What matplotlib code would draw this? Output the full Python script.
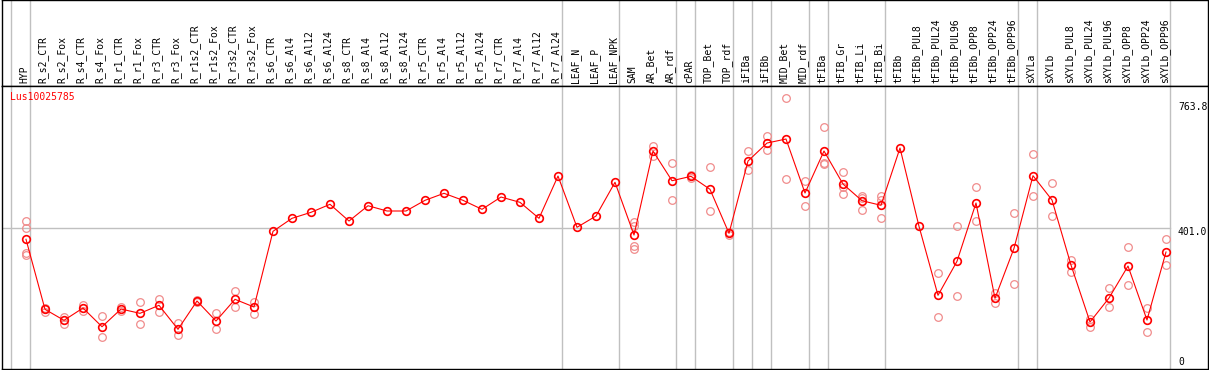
import matplotlib.pyplot as plt

# sample names, one column each
samples = [
    "HYP", "R_s2_CTR", "R_s2_Fox", "R_s4_CTR", "R_s4_Fox", "R_r1_CTR", "R_r1_Fox",
    "R_r3_CTR", "R_r3_Fox", "R_r1s2_CTR", "R_r1s2_Fox", "R_r3s2_CTR", "R_r3s2_Fox",
    "R_s6_CTR", "R_s6_Al4", "R_s6_Al12", "R_s6_Al24", "R_s8_CTR", "R_s8_Al4",
    "R_s8_Al12", "R_s8_Al24", "R_r5_CTR", "R_r5_Al4", "R_r5_Al12", "R_r5_Al24",
    "R_r7_CTR", "R_r7_Al4", "R_r7_Al12", "R_r7_Al24", "LEAF_N", "LEAF_P", "LEAF_NPK",
    "SAM", "AR_Bet", "AR_rdf", "cPAR", "TOP_Bet", "TOP_rdf", "iFIBa", "iFIBb",
    "MID_Bet", "MID_rdf", "tFIBa", "tFIB_Gr", "tFIB_Li", "tFIB_Bi", "tFIBb",
    "tFIBb_PUL8", "tFIBb_PUL24", "tFIBb_PUL96", "tFIBb_OPP8", "tFIBb_OPP24",
    "tFIBb_OPP96", "sXYLa", "sXYLb", "sXYLb_PUL8", "sXYLb_PUL24", "sXYLb_PUL96",
    "sXYLb_OPP8", "sXYLb_OPP24", "sXYLb_OPP96",
]

# mean expression per sample
means = [
    370.4, 175.0, 144.3, 178.6, 126.4, 175.8, 163.8, 186.2, 119.2, 198.2, 142.3,
    202.9, 181.4, 392.7, 429.0, 445.7, 468.1, 421.4, 464.1, 449.4, 449.4, 479.2,
    498.8, 479.2, 454.1, 488.4, 473.6, 429.0, 547.0, 403.9, 435.4, 529.5, 382.4,
    616.8, 533.9, 546.2, 509.9, 387.1, 588.9, 639.1, 650.3, 499.6, 616.8, 524.7,
    478.1, 465.3, 625.2, 406.7, 214.1, 309.0, 471.7, 205.7, 345.2, 547.9, 480.1,
    298.6, 139.6, 206.5, 295.8, 145.1, 334.9,
]

# individual replicates per sample
replicates = [
    [420.6, 401.9, 333.0, 327.4], [179.5, 166.6], [153.5, 133.1], [187.0, 170.3],
    [156.3, 96.8], [182.3, 170.3], [194.5, 133.1], [203.7, 168.3], [135.9, 103.3],
    [201.0, 195.4], [163.8, 120.0], [225.2, 180.6], [195.4, 161.9],
    [], [], [], [], [], [], [], [], [], [], [], [], [], [], [], [], [], [], [],
    [419.5, 407.5, 352.5, 343.3], [631.6, 602.9], [583.3, 479.2], [549.8, 542.8],
    [571.3, 449.4], [390.7, 383.8], [616.8, 563.8], [658.7, 620.4], [763.8, 538.7],
    [533.1, 462.5], [683.8, 583.3, 579.7], [557.4, 515.5, 496.0],
    [491.2, 484.8, 453.0], [491.2, 480.1, 429.8], [], [],
    [275.5, 152.7], [406.7, 211.3], [515.5, 422.3], [221.3, 191.7], [442.9, 244.8],
    [607.6, 492.1], [526.7, 435.4], [312.6, 279.9], [147.9, 126.4], [233.6, 180.6],
    [348.9, 242.0], [177.8, 110.8], [370.4, 298.6],
]

# last sample index of each tissue group (separator drawn after it)
group_ends = [-1, 0, 28, 31, 34, 35, 37, 38, 39, 41, 42, 45, 52, 53, 60]

gene = "Lus10025785"
mono = "DejaVu Sans Mono"
grey = "#c0c0c0"

fig = plt.figure(figsize=(12.09, 3.70), dpi=100)
ax_head = fig.add_axes([1.7 / 1209, 0.7684, 1206 / 1209, 0.2303])
ax = fig.add_axes([1.7 / 1209, 0.00405, 1206 / 1209, 0.7643])

xlim = (-1.279, 62.195)
for a in (ax_head, ax):
    a.set_xlim(*xlim)
    a.set_xticks([])
    a.set_yticks([])
    for s in a.spines.values():
        s.set_linewidth(1.0)
        s.set_color("black")
    for g in group_ends:
        a.axvline(g + 0.23, color=grey, lw=1.0, zorder=0)

ax_head.set_ylim(0, 1)
for i, name in enumerate(samples):
    ax_head.text(i - 0.1, 0.028, name, rotation=90, ha="center", va="bottom",
                 fontsize=7, family=mono)

ax.set_ylim(9.8, 799.1)

# horizontal reference line
ax.plot([xlim[0], 60.23], [401.0, 401.0], color=grey, lw=1.0, zorder=0)

# replicates
for i, reps in enumerate(replicates):
    if reps:
        ax.plot([i] * len(reps), reps, linestyle="none", marker="o", ms=5.5,
                mfc="none", mec="#f08c8c", mew=0.9, zorder=2)

# means
ax.plot(range(len(means)), means, color="red", lw=0.8, marker="o", ms=5.5,
        mfc="none", mec="red", mew=1.2, zorder=3)

ax.text(-0.84, 768.4, gene, color="red", ha="left", va="center",
        fontsize=7, family=mono)

for val, label in [(739.6, "763.8"), (390.7, "401.0"), (27.9, "0")]:
    ax.text(60.63, val, label, ha="left", va="center", fontsize=7, family=mono)

fig.savefig("out.png", dpi=100)
plt.close(fig)
